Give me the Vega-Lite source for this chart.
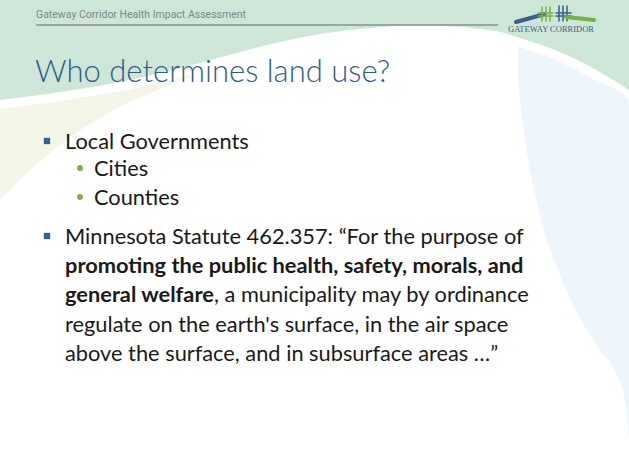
{
  "$schema": "https://vega.github.io/schema/vega-lite/v6.json",
  "width": 629,
  "height": 465,
  "autosize": {"type": "fit", "contains": "padding"},
  "padding": 0,
  "background": "white",
  "config": {"view": {"stroke": null}},
  "encoding": {
    "x": {"field": "x", "type": "quantitative", "scale": {"domain": [0, 629], "nice": false, "zero": false}, "axis": null},
    "y": {"field": "y", "type": "quantitative", "scale": {"domain": [0, 465], "nice": false, "zero": false, "reverse": true}, "axis": null}
  },
  "layer": [
    {
      "data": {"values": [
        {"x": 0, "y": 100}, {"x": 40, "y": 95}, {"x": 80, "y": 89}, {"x": 120, "y": 82},
        {"x": 160, "y": 73}, {"x": 200, "y": 63}, {"x": 240, "y": 52}, {"x": 280, "y": 42},
        {"x": 320, "y": 34}, {"x": 360, "y": 29}, {"x": 400, "y": 26}, {"x": 440, "y": 26},
        {"x": 480, "y": 29}, {"x": 500, "y": 32}, {"x": 520, "y": 38}, {"x": 560, "y": 52},
        {"x": 600, "y": 72}, {"x": 629, "y": 90}
      ]},
      "mark": {"type": "area", "color": "#cde6d7", "interpolate": "monotone"},
      "encoding": {"y2": {"datum": 0}}
    },
    {
      "data": {"values": [
        {"x": 0, "top": 109, "bottom": 200}, {"x": 30, "top": 105, "bottom": 170},
        {"x": 60, "top": 101, "bottom": 145}, {"x": 90, "top": 96, "bottom": 124},
        {"x": 110, "top": 93, "bottom": 112}, {"x": 150, "top": 85, "bottom": 93},
        {"x": 190, "top": 75, "bottom": 77}
      ]},
      "mark": {"type": "area", "color": "#f3f6e7", "interpolate": "monotone"},
      "encoding": {"y": {"field": "top", "type": "quantitative"}, "y2": {"field": "bottom"}}
    },
    {
      "data": {"values": [
        {"x": 518, "top": 46, "bottom": 80}, {"x": 525, "top": 49, "bottom": 140},
        {"x": 540, "top": 54, "bottom": 215}, {"x": 560, "top": 62, "bottom": 275},
        {"x": 580, "top": 72, "bottom": 318}, {"x": 600, "top": 82, "bottom": 350},
        {"x": 613, "top": 88, "bottom": 368}, {"x": 625, "top": 96, "bottom": 400},
        {"x": 629, "top": 100, "bottom": 440}
      ]},
      "mark": {"type": "area", "color": "#eef5fb", "interpolate": "monotone"},
      "encoding": {"y": {"field": "top", "type": "quantitative"}, "y2": {"field": "bottom"}}
    },
    {
      "data": {"values": [{"x": 36, "x2": 498, "y": 25}]},
      "mark": {"type": "rule", "color": "#98a8a0", "strokeWidth": 2},
      "encoding": {"x2": {"field": "x2"}}
    },
    {
      "data": {"values": [
        {"part": "blue", "x": 516, "y": 22, "x2": 545, "y2": 14, "w": "thick"},
        {"part": "green", "x": 542, "y": 7, "x2": 542, "y2": 21, "w": "thin"},
        {"part": "green", "x": 546, "y": 7, "x2": 546, "y2": 21, "w": "thin"},
        {"part": "green", "x": 550, "y": 7, "x2": 550, "y2": 21, "w": "thin"},
        {"part": "green", "x": 538, "y": 13, "x2": 553, "y2": 13, "w": "thin"},
        {"part": "green", "x": 538, "y": 16, "x2": 553, "y2": 16, "w": "thin"},
        {"part": "blue", "x": 559, "y": 6, "x2": 559, "y2": 21, "w": "thin"},
        {"part": "blue", "x": 563, "y": 6, "x2": 563, "y2": 21, "w": "thin"},
        {"part": "blue", "x": 567, "y": 6, "x2": 567, "y2": 21, "w": "thin"},
        {"part": "blue", "x": 556, "y": 13, "x2": 571, "y2": 13, "w": "thin"},
        {"part": "blue", "x": 556, "y": 16, "x2": 571, "y2": 16, "w": "thin"},
        {"part": "green", "x": 566, "y": 17, "x2": 594, "y2": 20, "w": "thick"}
      ]},
      "mark": {"type": "rule", "strokeCap": "round"},
      "encoding": {
        "x2": {"field": "x2"},
        "y2": {"field": "y2"},
        "color": {"field": "part", "type": "nominal", "scale": {"domain": ["blue", "green"], "range": ["#3a5f8c", "#79b043"]}, "legend": null},
        "strokeWidth": {"field": "w", "type": "nominal", "scale": {"domain": ["thin", "thick"], "range": [1.5, 4]}, "legend": null}
      }
    },
    {
      "data": {"values": [{"x": 508, "y": 32, "text": "GATEWAY CORRIDOR"}]},
      "mark": {"type": "text", "align": "left", "baseline": "alphabetic", "font": "Liberation Serif", "fontSize": 8.5, "color": "#44617f"},
      "encoding": {"text": {"field": "text"}}
    },
    {
      "data": {"values": [{"x": 36, "y": 18, "text": "Gateway Corridor Health Impact Assessment"}]},
      "mark": {"type": "text", "align": "left", "baseline": "alphabetic", "font": "Roboto", "fontSize": 10.5, "color": "#7b8a83"},
      "encoding": {"text": {"field": "text"}}
    },
    {
      "data": {"values": [{"x": 35, "y": 82, "text": "Who determines land use?"}]},
      "mark": {"type": "text", "align": "left", "baseline": "alphabetic", "font": "Lato", "fontWeight": 300, "fontSize": 31, "color": "#2e5c8c"},
      "encoding": {"text": {"field": "text"}}
    },
    {
      "data": {"values": [{"x": 47, "y": 141, "level": "1"}, {"x": 47, "y": 236, "level": "1"}, {"x": 80, "y": 168, "level": "2"}, {"x": 80, "y": 197, "level": "2"}]},
      "mark": {"type": "point", "filled": true, "opacity": 1},
      "encoding": {
        "shape": {"field": "level", "type": "nominal", "scale": {"domain": ["1", "2"], "range": ["square", "circle"]}, "legend": null},
        "color": {"field": "level", "type": "nominal", "scale": {"domain": ["1", "2"], "range": ["#3c6aa0", "#7ba23e"]}, "legend": null},
        "size": {"field": "level", "type": "nominal", "scale": {"domain": ["1", "2"], "range": [40, 34]}, "legend": null}
      }
    },
    {
      "data": {"values": [
        {"x": 65, "y": 149, "text": "Local Governments"},
        {"x": 94, "y": 176, "text": "Cities"},
        {"x": 94, "y": 205, "text": "Counties"},
        {"x": 65, "y": 244, "text": "Minnesota Statute 462.357: “For the purpose of"},
        {"x": 65, "y": 332, "text": "regulate on the earth's surface, in the air space"},
        {"x": 65, "y": 361, "text": "above the surface, and in subsurface areas …”"}
      ]},
      "mark": {"type": "text", "align": "left", "baseline": "alphabetic", "font": "Lato", "fontSize": 21.8, "color": "#1a1a1a"},
      "encoding": {"text": {"field": "text"}}
    },
    {
      "data": {"values": [
        {"x": 214, "y": 302, "text": ", a municipality may by ordinance"}
      ]},
      "mark": {"type": "text", "align": "left", "baseline": "alphabetic", "font": "Lato", "fontSize": 21.8, "color": "#1a1a1a"},
      "encoding": {"text": {"field": "text"}}
    },
    {
      "data": {"values": [
        {"x": 65, "y": 273, "text": "promoting the public health, safety, morals, and"},
        {"x": 65, "y": 302, "text": "general welfare"}
      ]},
      "mark": {"type": "text", "align": "left", "baseline": "alphabetic", "font": "Lato", "fontWeight": "bold", "fontSize": 21.8, "color": "#1a1a1a"},
      "encoding": {"text": {"field": "text"}}
    }
  ]
}
